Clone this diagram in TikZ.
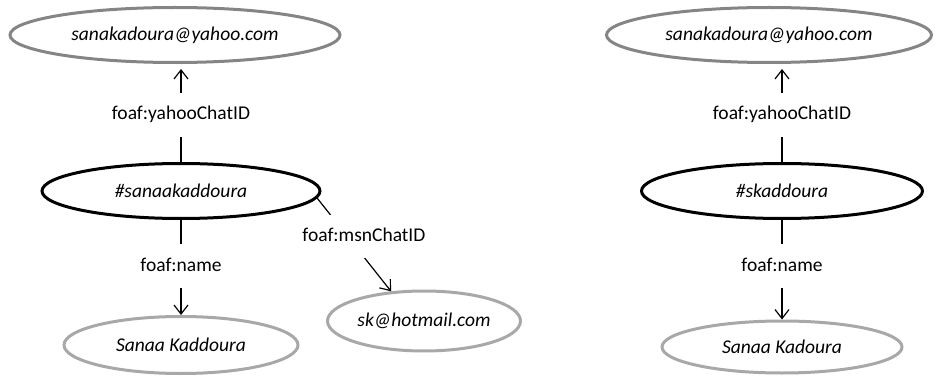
\documentclass[tikz,border=0pt]{standalone}
\usepackage{fontspec}
\setmainfont{Carlito}
\usetikzlibrary{arrows.meta,shapes.geometric}
\definecolor{darkgray}{HTML}{858585}
\definecolor{lightgray}{HTML}{A8A8A8}
\tikzset{
  ell/.style={ellipse, draw, line width=3pt, inner sep=0pt, font=\fontsize{19.5}{22}\selectfont\itshape},
  litnode/.style={ell, draw=darkgray},
  namenode/.style={ell, draw=lightgray},
  resnode/.style={ell, draw=black},
  elab/.style={font=\fontsize{19.5}{22}\selectfont, inner sep=0pt, outer sep=0pt, minimum height=44pt, text height=13pt, text depth=3pt},
  conn/.style={line width=1.2pt, black},
  arr/.style={conn, -{Straight Barb[length=9pt,width=14pt,line width=1.2pt]}}
}
\begin{document}
\begin{tikzpicture}[x=1pt,y=-1pt]
\useasboundingbox (0,0) rectangle (935,377);
% left graph
\node[litnode, minimum width=330pt, minimum height=55pt] (ly) at (175,35) {sanakadoura@yahoo.com};
\node[resnode, minimum width=278pt, minimum height=55pt] (lm) at (181,191) {\#sanaakaddoura};
\node[namenode, minimum width=234pt, minimum height=57pt] (ln) at (181,345) {Sanaa Kaddoura};
\node[namenode, minimum width=193pt, minimum height=60pt] (lh) at (424,321) {sk@hotmail.com};
\node[elab] (lyl) at (181,115) {foaf:yahooChatID};
\node[elab] (lnl) at (181,266) {foaf:name};
\draw[conn] (lm) -- (lyl);
\draw[arr, shorten >=5pt] (lyl) -- (lyl |- ly.south);
\draw[conn] (lm) -- (lnl);
\draw[arr] (lnl) -- (ln);
\draw[arr] (lm.-3) -- (lh.138) node[elab, fill=white, minimum height=43pt, pos=0.416, xshift=16pt] (lmsn) {foaf:msnChatID};
% right graph
\node[litnode, minimum width=325pt, minimum height=55pt] (ry) at (769,35) {sanakadoura@yahoo.com};
\node[resnode, minimum width=281pt, minimum height=55pt] (rm) at (782,191) {\#skaddoura};
\node[namenode, minimum width=240pt, minimum height=52pt] (rn) at (782,347) {Sanaa Kadoura};
\node[elab] (ryl) at (782,115) {foaf:yahooChatID};
\node[elab] (rnl) at (782,266) {foaf:name};
\draw[conn] (rm) -- (ryl);
\draw[arr, shorten >=5pt] (ryl) -- (ryl |- ry.south);
\draw[conn] (rm) -- (rnl);
\draw[arr] (rnl) -- (rn);
\end{tikzpicture}
\end{document}
